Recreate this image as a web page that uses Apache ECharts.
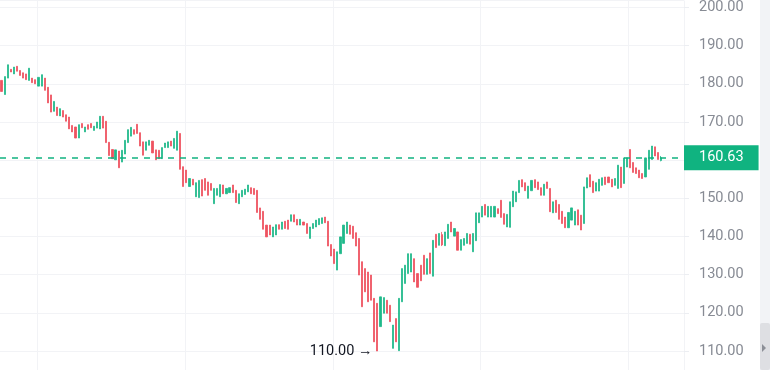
<!DOCTYPE html>
<html><head><meta charset="utf-8">
<script src="https://cdn.jsdelivr.net/npm/echarts@6/dist/echarts.min.js"></script>
<style>html,body{margin:0;padding:0;background:#fff}#c{width:770px;height:370px}</style>
</head><body><div id="c"></div>
<script>
const opens = [
180.9,177.2,181.5,183.8,182.6,184.6,183.5,182.9,182.6,180.9,
181.5,181.1,179.4,179.4,181.5,179.1,177.1,172.8,173.9,171.6,
173.0,171.9,171.3,169.1,168.7,165.8,169.6,167.4,169.3,169.6,
167.8,168.4,168.2,171.5,170.2,164.7,162.8,160.1,162.4,159.5,
161.6,164.6,166.3,168.0,169.4,167.2,164.8,162.6,163.9,165.0,
162.7,162.6,160.4,163.3,163.3,165.0,163.1,162.6,167.0,158.3,
157.4,153.1,155.0,150.4,150.2,154.9,155.2,154.3,153.9,148.6,
150.8,150.4,153.5,151.2,151.5,153.5,152.1,148.6,150.4,151.0,
151.7,152.8,152.6,152.1,147.5,146.6,143.0,143.0,139.9,140.4,
143.1,141.9,144.0,144.3,144.0,145.7,144.5,143.0,143.8,143.4,
139.5,142.1,142.5,143.1,143.4,145.1,144.0,137.9,136.7,131.2,
135.5,138.2,140.8,143.0,142.7,141.0,139.5,133.4,131.6,130.7,
129.9,123.8,122.5,116.4,119.9,123.3,122.0,110.7,118.5,110.1,
122.9,127.7,130.3,130.7,134.2,130.3,132.5,135.1,130.1,135.7,
129.6,140.6,137.7,140.5,137.6,139.5,143.8,140.1,141.2,136.4,
137.7,138.2,140.6,136.0,138.9,143.6,145.1,148.4,145.1,145.1,
145.1,147.3,149.5,146.0,142.5,142.4,147.8,149.1,151.5,154.9,
154.1,150.0,152.0,154.9,154.3,152.8,150.8,154.3,152.6,146.2,
149.5,148.4,146.6,145.1,142.3,144.3,143.0,147.0,145.6,143.4,
152.7,156.2,154.5,151.9,151.9,153.4,155.6,155.6,155.0,153.4,
152.6,158.2,153.9,158.2,162.8,159.4,158.0,157.4,156.5,155.6,
157.6,160.2,163.5,162.0,159.9
];
const closes = [
178.0,181.9,185.0,183.1,184.4,183.3,182.2,181.5,181.1,184.1,
180.3,180.0,181.7,182.4,178.3,175.0,172.6,175.4,171.7,173.5,
171.3,170.2,168.2,167.4,165.8,169.3,168.5,168.7,168.1,168.5,
168.9,170.0,171.5,168.4,164.6,161.2,160.4,162.7,158.0,162.6,
165.2,168.0,168.6,166.8,167.0,163.7,161.3,164.8,165.2,161.9,
160.1,160.4,163.3,164.5,164.8,163.7,165.7,167.6,157.6,153.1,
154.1,155.2,153.5,154.1,154.7,150.6,152.1,150.8,152.1,152.6,
152.6,153.6,151.2,152.6,152.8,151.5,148.9,151.2,152.1,152.4,
153.5,151.2,151.0,146.3,144.5,141.9,139.9,140.4,142.5,143.1,
141.9,143.8,142.1,141.9,145.7,143.8,143.0,144.5,143.0,140.8,
142.5,143.4,144.3,144.7,144.9,143.6,137.5,134.9,132.9,136.0,
139.9,143.0,143.8,140.6,139.5,137.5,129.9,121.6,125.5,122.9,
123.3,112.4,110.0,124.2,124.0,119.9,117.7,116.8,112.4,123.8,
131.6,132.5,135.5,135.5,128.1,126.7,128.4,130.1,134.2,130.3,
139.0,137.1,140.8,137.8,141.2,143.2,141.2,142.1,136.4,139.2,
139.5,140.8,138.0,140.8,146.2,146.2,147.9,145.6,147.9,147.9,
147.9,146.0,145.0,143.2,145.8,149.1,151.9,151.7,154.7,153.0,
152.0,153.2,154.7,152.8,152.3,150.8,153.7,152.6,146.5,149.1,
146.3,144.5,143.4,142.3,146.3,147.5,146.6,143.0,141.7,153.0,
155.4,153.0,151.5,154.1,155.0,155.4,153.6,154.1,153.0,155.2,
158.7,152.8,160.6,160.6,158.0,156.8,156.5,155.4,155.2,160.6,
162.6,163.7,161.1,160.2,160.63
];
const highs = [
180.9,181.9,185.0,183.8,184.4,184.6,183.5,182.9,182.6,184.1,
181.5,181.1,181.7,182.4,181.5,179.1,177.1,175.4,173.9,173.5,
173.0,171.9,171.3,169.1,168.7,169.3,169.6,168.7,169.3,169.6,
168.9,170.0,171.5,171.5,170.2,164.7,162.8,162.7,162.4,162.6,
165.2,168.0,168.6,168.0,169.4,167.2,164.8,164.8,165.2,165.0,
162.7,162.6,163.3,164.5,164.8,165.0,165.7,167.6,167.0,158.3,
157.4,155.2,155.0,154.1,154.7,154.9,155.2,154.3,153.9,152.6,
152.6,153.6,153.5,152.6,152.8,153.5,152.1,151.2,152.1,152.4,
153.5,152.8,152.6,152.1,147.5,146.6,143.0,143.0,142.5,143.1,
143.1,143.8,144.0,144.3,145.7,145.7,144.5,144.5,143.8,143.4,
142.5,143.4,144.3,144.7,144.9,145.1,144.0,137.9,136.7,136.0,
139.9,143.0,143.8,143.0,142.7,141.0,139.5,133.4,131.6,130.7,
129.9,123.8,122.5,124.2,124.0,123.3,122.0,116.8,118.5,123.8,
131.6,132.5,135.5,135.5,134.2,130.3,132.5,135.1,134.2,135.7,
139.0,140.6,140.8,141.2,141.2,143.2,143.8,142.1,141.2,139.2,
139.5,140.8,140.6,140.8,146.2,146.2,147.9,148.4,147.9,147.9,
147.9,147.3,149.5,146.0,145.8,149.1,151.9,151.7,154.7,154.9,
154.1,153.2,154.7,154.9,154.3,152.8,153.7,154.3,152.6,149.1,
149.5,148.4,146.6,145.1,146.3,147.5,146.6,147.0,145.6,153.0,
155.4,156.2,154.5,154.1,155.0,155.4,155.6,155.6,155.0,155.2,
158.7,158.2,160.6,160.6,162.8,159.4,158.0,157.4,156.5,160.6,
162.6,163.7,163.5,162.0,161.1
];
const lows = [
178.0,177.2,181.5,183.1,182.6,183.3,182.2,181.5,181.1,180.9,
180.3,180.0,179.4,179.4,178.3,175.0,172.6,172.8,171.7,171.6,
171.3,170.2,168.2,167.4,165.8,165.8,168.5,167.4,168.1,168.5,
167.8,168.4,168.2,168.4,164.6,161.2,160.4,160.1,158.0,159.5,
161.6,164.6,166.3,166.8,167.0,163.7,161.3,162.6,163.9,161.9,
160.1,160.4,160.4,163.3,163.3,163.7,163.1,162.6,157.6,153.1,
154.1,153.1,153.5,150.4,150.2,150.6,152.1,150.8,152.1,148.6,
150.8,150.4,151.2,151.2,151.5,151.5,148.9,148.6,150.4,151.0,
151.7,151.2,151.0,146.3,144.5,141.9,139.9,140.4,139.9,140.4,
141.9,141.9,142.1,141.9,144.0,143.8,143.0,143.0,143.0,140.8,
139.5,142.1,142.5,143.1,143.4,143.6,137.5,134.9,132.9,131.2,
135.5,138.2,140.8,140.6,139.5,137.5,129.9,121.6,125.5,122.9,
123.3,112.4,110.0,116.4,119.9,119.9,117.7,110.7,112.4,110.1,
122.9,127.7,130.3,130.7,128.1,126.7,128.4,130.1,130.1,130.3,
129.6,137.1,137.7,137.5,137.6,139.5,141.2,140.1,136.4,136.4,
137.7,138.2,138.0,136.0,138.9,143.6,145.1,145.6,145.1,145.1,
145.1,146.0,145.0,143.2,142.5,142.4,147.8,149.1,151.5,153.0,
152.0,150.0,152.0,152.8,152.3,150.8,150.8,152.6,146.5,146.2,
146.3,144.5,143.4,142.3,142.3,144.3,143.0,143.0,141.7,143.4,
152.7,153.0,151.5,151.9,151.9,153.4,153.6,154.1,153.0,153.4,
152.6,152.8,153.9,158.2,158.0,156.8,156.5,155.4,155.2,155.6,
157.6,160.2,161.1,160.2,159.7
];
const emptySlots = 7;   // blank space on the right of the last bar
const priceLow = 105.03, priceHigh = 201.83;   // visible price window

const UP = '#1fb98a', DOWN = '#ef5260', BOX = '#10b380';

const categories = [];
for (let i = 0; i < opens.length + emptySlots; i++) categories.push('D' + (i + 1));
const ohlc = opens.map((o, i) => [o, closes[i], lows[i], highs[i]]);
for (let i = 0; i < emptySlots; i++) ohlc.push('-');
const lastClose = closes[closes.length - 1];
const minLow = Math.min(...lows);
const minIdx = lows.indexOf(minLow);

const chart = echarts.init(document.getElementById('c'), null, {renderer: 'canvas'});
chart.setOption({
  animation: false,
  grid: {left: 0, right: 86, top: 0, bottom: 0},
  xAxis: {
    type: 'category', data: categories, boundaryGap: true,
    axisLine: {show: false}, axisTick: {show: false}, axisLabel: {show: false},
    splitLine: {show: true, interval: (i) => i >= 12 && (i - 12) % 48 === 0,
      lineStyle: {color: '#f2f3f6', width: 1}}
  },
  yAxis: {
    type: 'value', position: 'right', min: priceLow, max: priceHigh, splitNumber: 10,
    axisLine: {show: false},
    axisTick: {show: true, length: 5, lineStyle: {color: '#eceef2'}},
    axisLabel: {margin: 15, color: '#878b94', fontSize: 14.5, fontFamily: 'Roboto',
      padding: [4, 0, 0, 0],
      showMinLabel: false, showMaxLabel: false,
      formatter: (v) => v.toFixed(2)},
    splitLine: {show: true, lineStyle: {color: '#f2f3f6', width: 1}}
  },
  series: [{
    type: 'candlestick', data: ohlc, barWidth: 1.6, clip: false,
    itemStyle: {color: UP, color0: DOWN, borderColor: UP, borderColor0: DOWN, borderWidth: 0.8},
    markLine: {
      symbol: 'none', silent: true, animation: false,
      data: [{yAxis: lastClose, lineStyle: {color: BOX, type: [6, 6], width: 1.6}}],
      lineStyle: {color: BOX, type: [6, 6], width: 1.6},
      label: {position: 'end', distance: 0, formatter: (p) => Number(p.value).toFixed(2),
        backgroundColor: BOX, color: '#ffffff', padding: [5, 15, 5, 15],
        fontSize: 14.5, lineHeight: 15, fontFamily: 'Roboto'}
    },
    markPoint: {
      silent: true, animation: false,
      symbol: 'circle', symbolSize: 2,
      itemStyle: {color: 'rgba(0,0,0,0)'},
      data: [{coord: [categories[minIdx], minLow], value: minLow}],
      label: {show: true, position: 'left', distance: 4,
        formatter: (p) => Number(p.value).toFixed(2) + ' \u2192',
        color: '#131722', fontSize: 14.5, fontFamily: 'Roboto'}
    }
  }],
  graphic: [
    {type: 'rect', shape: {x: 760, y: 0, width: 10, height: 370}, style: {fill: '#f2f3f6'}},
    {type: 'rect', shape: {x: 760, y: 323, width: 10, height: 47, r: 2}, style: {fill: '#dedfe3'}},
    {type: 'polygon', shape: {points: [[762, 344], [766, 348], [762, 352]]}, style: {fill: '#8c8f97'}}
  ]
});
</script></body></html>
